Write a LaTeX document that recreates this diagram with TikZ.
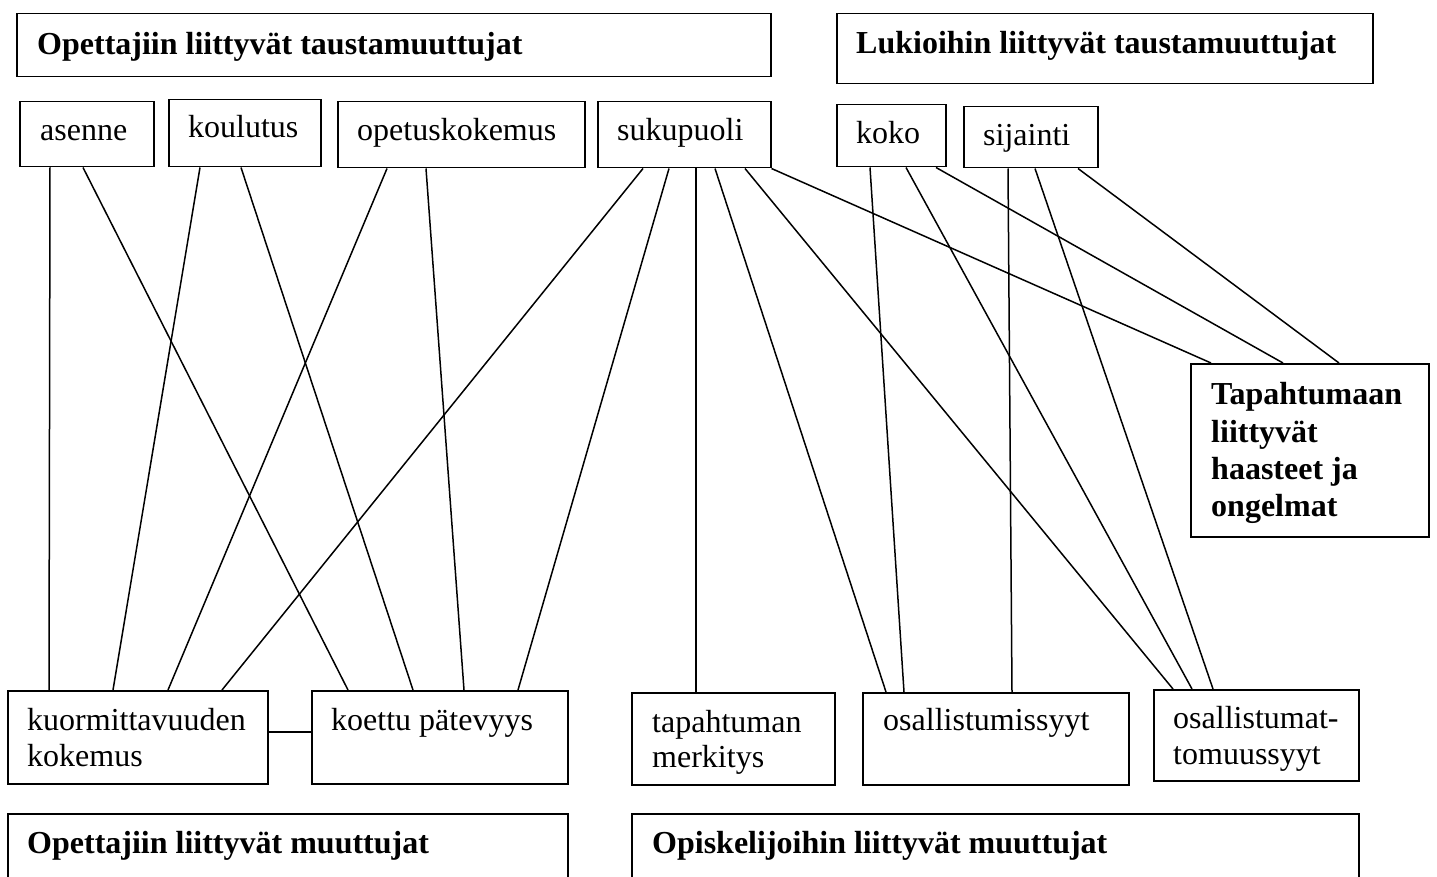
\documentclass[tikz,border=0pt]{standalone}
\usepackage{fontspec}
\setmainfont{Liberation Serif}
\begin{document}
\begin{tikzpicture}[x=1pt,y=-1pt,
  box/.style={draw, line width=1.5pt, rectangle, inner sep=0pt, anchor=north west},
  lbl/.style={anchor=base west, inner sep=0pt, font=\fontsize{32}{36}\selectfont},
  blbl/.style={anchor=base west, inner sep=0pt, font=\fontsize{32}{36}\selectfont\bfseries},
  link/.style={line width=1.5pt}]
\useasboundingbox (0,0) rectangle (1437,877);
\clip (0,0) rectangle (1437,877);
% boxes
\node[box, minimum width=754pt, minimum height=63pt] (t1) at (16,13) {};
\node[box, minimum width=536pt, minimum height=70pt] (t2) at (836,13) {};
\node[box, minimum width=134pt, minimum height=65pt] (asenne) at (19,101) {};
\node[box, minimum width=152pt, minimum height=67pt] (koulutus) at (168,99) {};
\node[box, minimum width=247pt, minimum height=66pt] (opetus) at (337,101) {};
\node[box, minimum width=173pt, minimum height=66pt] (suku) at (597,101) {};
\node[box, minimum width=109pt, minimum height=62pt] (koko) at (836,104) {};
\node[box, minimum width=134pt, minimum height=61pt] (sijainti) at (963,106) {};
\node[box, minimum width=238pt, minimum height=173pt] (tapaht) at (1190,363) {};
\node[box, minimum width=260pt, minimum height=93pt] (kuorm) at (7,690) {};
\node[box, minimum width=256pt, minimum height=93pt] (koettu) at (311,690) {};
\node[box, minimum width=203pt, minimum height=92pt] (merkitys) at (631,692) {};
\node[box, minimum width=266pt, minimum height=92pt] (osall) at (862,692) {};
\node[box, minimum width=205pt, minimum height=91pt] (osallm) at (1153,689) {};
\node[box, minimum width=560pt, minimum height=90pt] (b1) at (7,813) {};
\node[box, minimum width=727pt, minimum height=90pt] (b2) at (631,813) {};
% texts
\node[blbl] (t1t) at (37,55) {Opettajiin liittyvät taustamuuttujat};
\node[blbl] (t2t) at (856,54) {Lukioihin liittyvät taustamuuttujat};
\node[lbl] (asennet) at (40,141) {asenne};
\node[lbl] (koulutust) at (188,138) {koulutus};
\node[lbl] (opetust) at (357,141) {opetuskokemus};
\node[lbl] (sukut) at (617,141) {sukupuoli};
\node[lbl] (kokot) at (856,144) {koko};
\node[lbl] (sijaintit) at (983,146) {sijainti};
\node[blbl] (tapaht1) at (1211,404) {Tapahtumaan};
\node[blbl] (tapaht2) at (1211,442) {liittyvät};
\node[blbl] (tapaht3) at (1211,479) {haasteet ja};
\node[blbl] (tapaht4) at (1211,516) {ongelmat};
\node[lbl] (kuorm1) at (27,730) {kuormittavuuden};
\node[lbl] (kuorm2) at (27,766) {kokemus};
\node[lbl] (koettut) at (331,730) {koettu pätevyys};
\node[lbl] (merk1) at (652,732) {tapahtuman};
\node[lbl] (merk2) at (652,767) {merkitys};
\node[lbl] (osallt) at (883,730) {osallistumissyyt};
\node[lbl] (osallm1) at (1173,728) {osallistumat-};
\node[lbl] (osallm2) at (1173,764) {tomuussyyt};
\node[blbl] (b1t) at (27,853) {Opettajiin liittyvät muuttujat};
\node[blbl] (b2t) at (652,853) {Opiskelijoihin liittyvät muuttujat};
% connectors
\draw[link] ([xshift=31pt]asenne.south west) -- ([xshift=42pt]kuorm.north west);
\draw[link] ([xshift=64pt]asenne.south west) -- ([xshift=37pt]koettu.north west);
\draw[link] ([xshift=32pt]koulutus.south west) -- ([xshift=106pt]kuorm.north west);
\draw[link] ([xshift=73pt]koulutus.south west) -- ([xshift=102pt]koettu.north west);
\draw[link] ([xshift=50pt]opetus.south west) -- ([xshift=161pt]kuorm.north west);
\draw[link] ([xshift=89pt]opetus.south west) -- ([xshift=153pt]koettu.north west);
\draw[link] ([xshift=46pt]suku.south west) -- ([xshift=215pt]kuorm.north west);
\draw[link] ([xshift=72pt]suku.south west) -- ([xshift=207pt]koettu.north west);
\draw[link] ([xshift=99pt]suku.south west) -- ([xshift=65pt]merkitys.north west);
\draw[link] ([xshift=118pt]suku.south west) -- ([xshift=24pt]osall.north west);
\draw[link] ([xshift=148pt]suku.south west) -- ([xshift=20pt]osallm.north west);
\draw[link] (suku.south east) -- ([xshift=21pt]tapaht.north west);
\draw[link] ([xshift=34pt]koko.south west) -- ([xshift=42pt]osall.north west);
\draw[link] ([xshift=70pt]koko.south west) -- ([xshift=39pt]osallm.north west);
\draw[link] ([xshift=100pt]koko.south west) -- ([xshift=93pt]tapaht.north west);
\draw[link] ([xshift=45pt]sijainti.south west) -- ([xshift=150pt]osall.north west);
\draw[link] ([xshift=72pt]sijainti.south west) -- ([xshift=60pt]osallm.north west);
\draw[link] ([xshift=115pt]sijainti.south west) -- ([xshift=149pt]tapaht.north west);
\draw[link] ([yshift=5.5pt]kuorm.east) -- ([yshift=5.5pt]koettu.west);
\end{tikzpicture}
\end{document}
